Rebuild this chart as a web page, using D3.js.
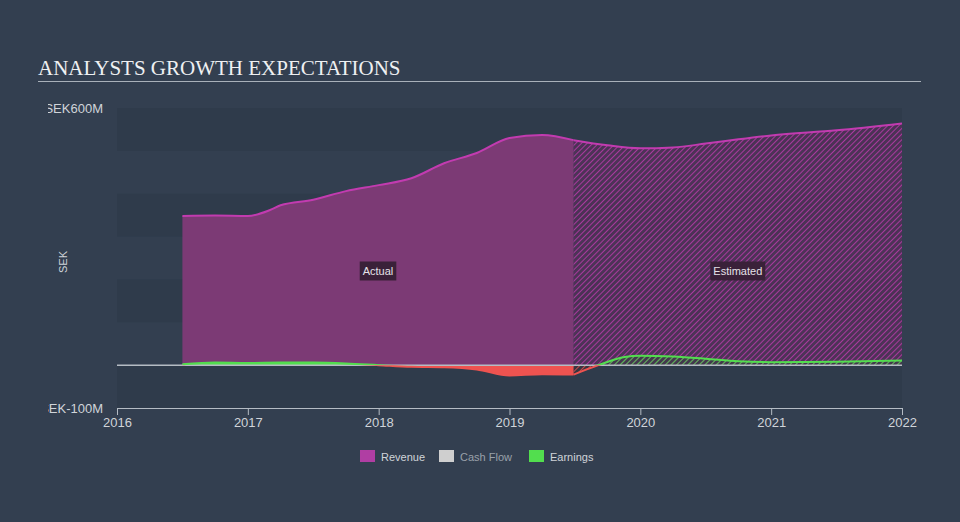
<!DOCTYPE html>
<html>
<head>
<meta charset="utf-8">
<script src="https://cdn.jsdelivr.net/npm/d3@7/dist/d3.min.js"></script>
<style>
html,body{margin:0;padding:0;background:#333f50;}
svg{display:block;}
</style>
</head>
<body>
<svg id="chart" width="960" height="522"></svg>
<script>
// ---- data (SEK millions) ----
const revenueActualX = [2016.5, 2016.75, 2017.0, 2017.17, 2017.25, 2017.5, 2017.75, 2018.0, 2018.25, 2018.5, 2018.75, 2019.0, 2019.25, 2019.49];
const revenueActualY = [348, 349, 348, 362, 373, 386, 406, 420, 436, 471, 495, 530, 537, 525];
const revenueEstX = [2019.49, 2019.75, 2020.0, 2020.25, 2020.5, 2020.75, 2021.0, 2021.5, 2022.0];
const revenueEstY = [525, 513, 506, 508, 517, 527, 536, 548, 564];
const earningsActualX = [2016.5, 2016.75, 2017.0, 2017.25, 2017.5, 2017.75, 2018.0, 2018.25, 2018.5, 2018.75, 2019.0, 2019.25, 2019.49];
const earningsActualY = [2, 6, 5, 6, 6, 4, 0, -4, -5, -10, -24, -21, -22];
const earningsEstX = [2019.49, 2019.68, 2019.88, 2020.0, 2020.25, 2020.5, 2020.75, 2021.0, 2021.5, 2022.0];
const earningsEstY = [-22, 0, 19, 22, 20, 15, 9, 7, 8, 11];
const xTicks = [2016, 2017, 2018, 2019, 2020, 2021, 2022];
const yTickValues = [600, -100];
const yTickLabels = ["SEK600M", "SEK-100M"];
const bandStarts = [600, 400, 200, 0];
const legendItems = ["Revenue", "Cash Flow", "Earnings"];
const labels = ["Actual", "Estimated"];

// ---- layout ----
const svg = d3.select("#chart");
const L = 117, R = 902, T = 108, B = 408;
const x = d3.scaleLinear().domain([2016, 2022]).range([L, R]);
const y = d3.scaleLinear().domain([-100, 600]).range([B, T]);
const split = 2019.49;

const C = {
  bg: "#333f50", band: "#2f3b4b", rev: "#c23bb0", revFill: "#7c3a75",
  earn: "#53dd4f", neg: "#ee5350", text: "#d0d4d9", axis: "#b5bcc4"
};

const defs = svg.append("defs");
function hatch(id, color, base) {
  const p = defs.append("pattern").attr("id", id).attr("patternUnits", "userSpaceOnUse")
    .attr("width", 4).attr("height", 4).attr("patternTransform", "rotate(45)");
  p.append("rect").attr("width", 4).attr("height", 4).attr("fill", base);
  p.append("line").attr("x1", 0).attr("y1", 0).attr("x2", 0).attr("y2", 4)
    .attr("stroke", color).attr("stroke-width", 1.8);
}
hatch("hRev", "#b23aa5", "rgba(90,45,90,0.65)");
hatch("hEarn", "#4fc84c", "rgba(40,70,50,0.3)");
hatch("hNeg", "#d84e4c", "rgba(70,40,40,0.3)");

defs.append("clipPath").attr("id", "above").append("rect")
  .attr("x", L).attr("y", T - 20).attr("width", R - L).attr("height", y(0) - T + 20);
defs.append("clipPath").attr("id", "below").append("rect")
  .attr("x", L).attr("y", y(0)).attr("width", R - L).attr("height", B - y(0));
defs.append("clipPath").attr("id", "ylab").append("rect")
  .attr("x", 48).attr("y", 0).attr("width", 100).attr("height", 522);

// title
svg.append("text").attr("x", 38).attr("y", 75)
  .attr("font-family", "Liberation Serif, 'Times New Roman', serif").attr("font-size", 21)
  .attr("fill", "#eef0f2").text("ANALYSTS GROWTH EXPECTATIONS");
svg.append("line").attr("x1", 38).attr("x2", 921).attr("y1", 81.5).attr("y2", 81.5)
  .attr("stroke", "#a9b1ba").attr("stroke-width", 1.2);

// bands
svg.append("g").selectAll("rect").data(bandStarts).join("rect")
  .attr("x", L).attr("width", R - L)
  .attr("y", d => y(d)).attr("height", d => y(d - 100) - y(d))
  .attr("fill", C.band);
svg.append("rect").attr("x", L).attr("width", R - L).attr("y", y(0)).attr("height", B - y(0)).attr("fill", C.band);

const curve = d3.curveMonotoneX;
const zip = (xs, ys) => xs.map((v, i) => [v, ys[i]]);
const revA = zip(revenueActualX, revenueActualY);
const revE = zip(revenueEstX, revenueEstY);
const earnA = zip(earningsActualX, earningsActualY);
const earnE = zip(earningsEstX, earningsEstY);

const area = d3.area().x(d => x(d[0])).y0(y(0)).y1(d => y(d[1])).curve(curve);
const line = d3.line().x(d => x(d[0])).y(d => y(d[1])).curve(curve);

// revenue
svg.append("path").datum(revA).attr("d", area).attr("fill", C.revFill);
svg.append("path").datum(revE).attr("d", area).attr("fill", "url(#hRev)");
svg.append("path").datum(revA).attr("d", line).attr("fill", "none").attr("stroke", C.rev).attr("stroke-width", 2);
svg.append("path").datum(revE).attr("d", line).attr("fill", "none").attr("stroke", C.rev).attr("stroke-width", 2);

// earnings areas
svg.append("path").datum(earnA).attr("d", area).attr("fill", C.earn).attr("clip-path", "url(#above)");
svg.append("path").datum(earnA).attr("d", area).attr("fill", C.neg).attr("clip-path", "url(#below)");
svg.append("path").datum(earnE).attr("d", area).attr("fill", "url(#hEarn)").attr("clip-path", "url(#above)");
svg.append("path").datum(earnE).attr("d", area).attr("fill", "url(#hNeg)").attr("clip-path", "url(#below)");

// zero line
svg.append("line").attr("x1", L).attr("x2", R).attr("y1", y(0)).attr("y2", y(0))
  .attr("stroke", C.axis).attr("stroke-width", 1.5);

// earnings lines
[earnA, earnE].forEach(d => {
  svg.append("path").datum(d).attr("d", line).attr("fill", "none").attr("stroke", C.earn)
    .attr("stroke-width", 2).attr("clip-path", "url(#above)");
  svg.append("path").datum(d).attr("d", line).attr("fill", "none").attr("stroke", C.neg)
    .attr("stroke-width", 2).attr("clip-path", "url(#below)");
});

// x axis
const xAxis = svg.append("g").attr("transform", `translate(0,${B})`)
  .call(d3.axisBottom(x).tickValues(xTicks).tickFormat(d3.format("d")).tickSize(7).tickSizeOuter(0));
xAxis.select(".domain").attr("stroke", C.axis).attr("stroke-width", 1.2);
xAxis.selectAll(".tick line").attr("stroke", C.axis);
xAxis.selectAll("text").attr("fill", C.text).attr("font-size", 13)
  .attr("font-family", "Liberation Sans, Arial, sans-serif").attr("dy", "0.9em").attr("y", 7);

// y labels
svg.append("g").attr("clip-path", "url(#ylab)").selectAll("text").data(yTickValues).join("text")
  .attr("x", 103).attr("y", d => y(d)).attr("dy", "0.35em").attr("text-anchor", "end")
  .attr("fill", C.text).attr("font-size", 13).attr("font-family", "Liberation Sans, Arial, sans-serif")
  .text((d, i) => yTickLabels[i]);
svg.append("text").attr("transform", `translate(67,${(T + B) / 2 + 4}) rotate(-90)`)
  .attr("text-anchor", "middle").attr("fill", C.text).attr("font-size", 11)
  .attr("font-family", "Liberation Sans, Arial, sans-serif").text("SEK");

// Actual / Estimated labels
const labelPos = [(x(2016.5) + x(split)) / 2, (x(split) + x(2022)) / 2];
labels.forEach((t, i) => {
  const g = svg.append("g").attr("transform", `translate(${labelPos[i]},271)`);
  const txt = g.append("text").attr("text-anchor", "middle").attr("dy", "0.35em")
    .attr("fill", "#e6e1e8").attr("font-size", 11)
    .attr("font-family", "Liberation Sans, Arial, sans-serif").text(t);
  const w = txt.node().getComputedTextLength() + 6;
  g.insert("rect", "text").attr("x", -w / 2).attr("y", -9.5).attr("width", w).attr("height", 19)
    .attr("fill", "#3a2139");
});

// legend
const legX = [360, 439, 529];
const legColors = ["#b03ea3", "#cfcfcf", "#52de4e"];
const legText = ["#d0d4d9", "#9aa1aa", "#d0d4d9"];
const lg = svg.append("g");
legendItems.forEach((t, i) => {
  lg.append("rect").attr("x", legX[i]).attr("y", 450).attr("width", 15).attr("height", 12).attr("fill", legColors[i]);
  lg.append("text").attr("x", legX[i] + 21).attr("y", 460.5).attr("fill", legText[i])
    .attr("font-size", 11).attr("font-family", "Liberation Sans, Arial, sans-serif").text(t);
});
</script>
</body>
</html>
